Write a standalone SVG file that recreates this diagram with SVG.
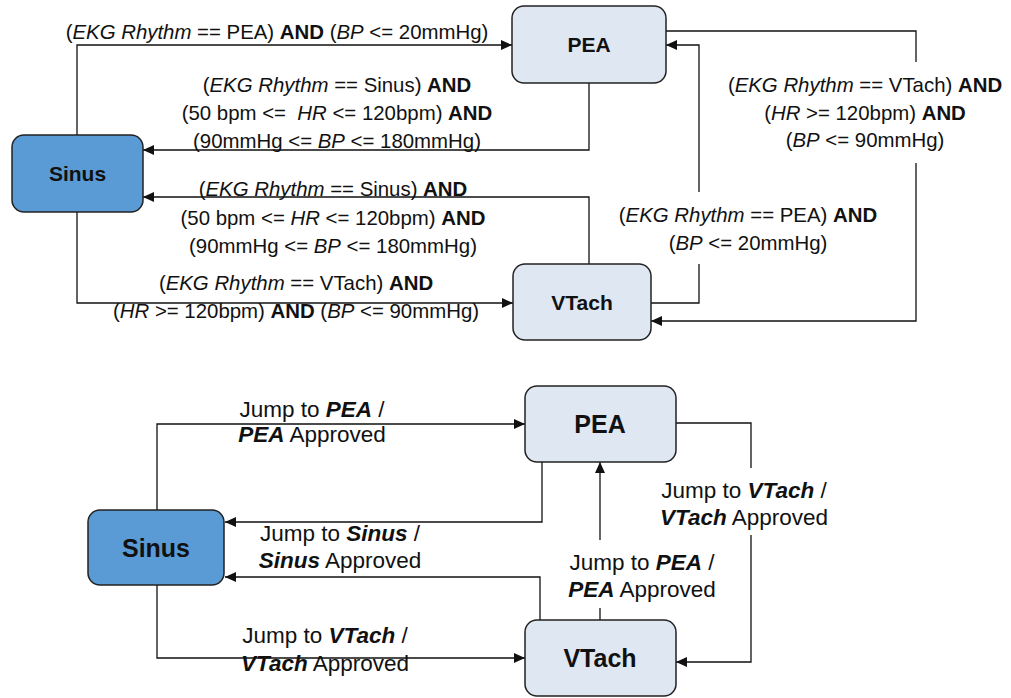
<svg xmlns="http://www.w3.org/2000/svg" width="1011" height="698" viewBox="0 0 1011 698">
<style>
.box{fill:#DFE7F2;stroke:#222;stroke-width:1.5}
.sin{fill:#5B9BD5;stroke:#222;stroke-width:1.5}
.nt{font-family:"Liberation Sans",Arial,sans-serif;font-weight:bold;fill:#111;text-anchor:middle}
.c{fill:none;stroke:#111;stroke-width:1.3}
.l{font-family:"Liberation Sans",Arial,sans-serif;font-size:20.4px;fill:#111;text-anchor:middle}
.j{font-family:"Liberation Sans",Arial,sans-serif;font-size:22.5px;fill:#111;text-anchor:middle}
.i{font-style:italic}
.b{font-weight:bold}
.bi{font-weight:bold;font-style:italic}
.bg{fill:#fff}
</style>
<defs>
<marker id="ah" markerUnits="userSpaceOnUse" markerWidth="11" markerHeight="10" refX="11" refY="5" orient="auto">
<path d="M0,0 L11,5 L0,10 z" fill="#111"/>
</marker>
</defs>

<g id="connectors">
<!-- top diagram -->
<path class="c" d="M77,135 V45 H512" marker-end="url(#ah)"/>
<path class="c" d="M589,83 V150 H143" marker-end="url(#ah)"/>
<path class="c" d="M589,264 V197 H143" marker-end="url(#ah)"/>
<path class="c" d="M77,212 V303 H513" marker-end="url(#ah)"/>
<path class="c" d="M651,303 H699 V45 H666" marker-end="url(#ah)"/>
<path class="c" d="M666,31 H916 V321 H651" marker-end="url(#ah)"/>
<!-- bottom diagram -->
<path class="c" d="M157,510 V424 H525" marker-end="url(#ah)"/>
<path class="c" d="M542,462 V522 H225" marker-end="url(#ah)"/>
<path class="c" d="M540,620 V577 H225" marker-end="url(#ah)"/>
<path class="c" d="M157,585 V658 H525" marker-end="url(#ah)"/>
<path class="c" d="M600,620 V462" marker-end="url(#ah)"/>
<path class="c" d="M676,423 H751 V662 H676" marker-end="url(#ah)"/>

<g id="labels">
<text class="l" x="277" y="39">(<tspan class="i">EKG Rhythm</tspan> == PEA) <tspan class="b">AND</tspan> (<tspan class="i">BP</tspan> &lt;= 20mmHg)</text>

<text class="l" x="337" y="92">(<tspan class="i">EKG Rhythm</tspan> == Sinus) <tspan class="b">AND</tspan></text>
<text class="l" x="337" y="120">(50 bpm &lt;=&#160; <tspan class="i">HR</tspan> &lt;= 120bpm) <tspan class="b">AND</tspan></text>
<text class="l" x="337" y="148">(90mmHg &lt;= <tspan class="i">BP</tspan> &lt;= 180mmHg)</text>

<text class="l" x="333" y="196">(<tspan class="i">EKG Rhythm</tspan> == Sinus) <tspan class="b">AND</tspan></text>
<text class="l" x="333" y="225">(50 bpm &lt;= <tspan class="i">HR</tspan> &lt;= 120bpm) <tspan class="b">AND</tspan></text>
<text class="l" x="333" y="253">(90mmHg &lt;= <tspan class="i">BP</tspan> &lt;= 180mmHg)</text>

<text class="l" x="296" y="290">(<tspan class="i">EKG Rhythm</tspan> == VTach) <tspan class="b">AND</tspan></text>
<text class="l" x="296" y="318">(<tspan class="i">HR</tspan> &gt;= 120bpm) <tspan class="b">AND</tspan> (<tspan class="i">BP</tspan> &lt;= 90mmHg)</text>

<rect class="bg" x="612" y="192" width="272" height="72"/>
<text class="l" x="748" y="222">(<tspan class="i">EKG Rhythm</tspan> == PEA) <tspan class="b">AND</tspan></text>
<text class="l" x="748" y="250">(<tspan class="i">BP</tspan> &lt;= 20mmHg)</text>

<rect class="bg" x="720" y="62" width="291" height="101"/>
<text class="l" x="865" y="92">(<tspan class="i">EKG Rhythm</tspan> == VTach) <tspan class="b">AND</tspan></text>
<text class="l" x="865" y="120">(<tspan class="i">HR</tspan> &gt;= 120bpm) <tspan class="b">AND</tspan></text>
<text class="l" x="865" y="147">(<tspan class="i">BP</tspan> &lt;= 90mmHg)</text>

<text class="j" x="312" y="417">Jump to <tspan class="bi">PEA</tspan> /</text>
<text class="j" x="312" y="442"><tspan class="bi">PEA</tspan> Approved</text>

<text class="j" x="340" y="541">Jump to <tspan class="bi">Sinus</tspan> /</text>
<text class="j" x="340" y="568"><tspan class="bi">Sinus</tspan> Approved</text>

<text class="j" x="325" y="643">Jump to <tspan class="bi">VTach</tspan> /</text>
<text class="j" x="325" y="671"><tspan class="bi">VTach</tspan> Approved</text>

<rect class="bg" x="562" y="540" width="162" height="68"/>
<text class="j" x="642" y="570">Jump to <tspan class="bi">PEA</tspan> /</text>
<text class="j" x="642" y="597"><tspan class="bi">PEA</tspan> Approved</text>

<rect class="bg" x="652" y="468" width="186" height="67"/>
<text class="j" x="744" y="498">Jump to <tspan class="bi">VTach</tspan> /</text>
<text class="j" x="744" y="525"><tspan class="bi">VTach</tspan> Approved</text>
</g>
</g>

<g id="top-pea"><rect class="box" x="512" y="6" width="154" height="77" rx="12"/><text class="nt" x="589" y="52" font-size="21">PEA</text></g>
<g id="top-sinus"><rect class="sin" x="12" y="135" width="131" height="77" rx="12"/><text class="nt" x="77.5" y="181" font-size="21">Sinus</text></g>
<g id="top-vtach"><rect class="box" x="513" y="264" width="138" height="76" rx="12"/><text class="nt" x="582" y="310" font-size="21">VTach</text></g>

<g id="bottom-pea"><rect class="box" x="525" y="386" width="151" height="76" rx="12"/><text class="nt" x="600" y="433" font-size="25">PEA</text></g>
<g id="bottom-sinus"><rect class="sin" x="88" y="510" width="136" height="75" rx="12"/><text class="nt" x="156" y="557" font-size="25">Sinus</text></g>
<g id="bottom-vtach"><rect class="box" x="525" y="620" width="151" height="76" rx="12"/><text class="nt" x="600" y="667" font-size="25">VTach</text></g>
</svg>
